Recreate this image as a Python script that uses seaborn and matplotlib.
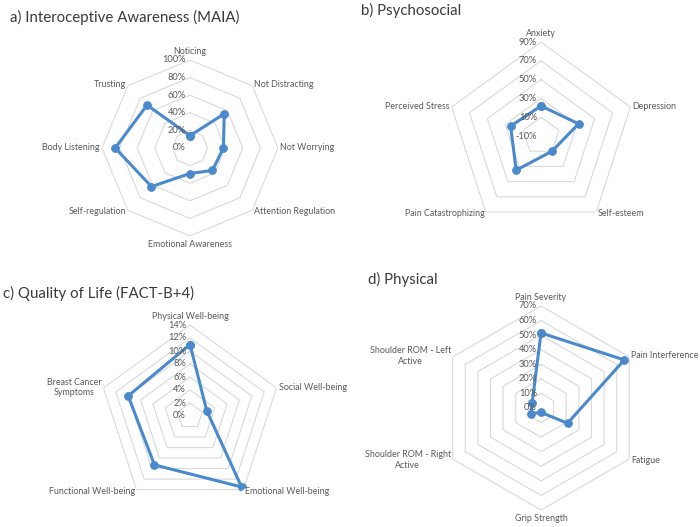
import numpy as np
import matplotlib.pyplot as plt
import seaborn as sns

# a) MAIA
maia_labels = ["Noticing", "Not Distracting", "Not Worrying", "Attention Regulation",
               "Emotional Awareness", "Self-regulation", "Body Listening", "Trusting"]
maia_values = [0.14, 0.55, 0.38, 0.36, 0.29, 0.62, 0.85, 0.69]
maia_ticks = [0.0, 0.2, 0.4, 0.6, 0.8, 1.0]

# b) Psychosocial
psych_labels = ["Anxiety", "Depression", "Self-esteem", "Pain Catastrophizing", "Perceived Stress"]
psych_values = [0.22, 0.32, 0.10, 0.35, 0.24]
psych_ticks = [-0.1, 0.1, 0.3, 0.5, 0.7, 0.9]

# c) Quality of life
qol_labels = ["Physical Well-being", "Social Well-being", "Emotional Well-being",
              "Functional Well-being", "Breast Cancer\nSymptoms"]
qol_values = [0.11, 0.027, 0.135, 0.093, 0.10]
qol_ticks = [0.0, 0.02, 0.04, 0.06, 0.08, 0.10, 0.12, 0.14]

# d) Physical
phys_labels = ["Pain Severity", "Pain Interference", "Fatigue", "Grip Strength",
               "Shoulder ROM - Right\nActive", "Shoulder ROM - Left\nActive"]
phys_values = [0.515, 0.66, 0.21, 0.03, 0.08, 0.07]
phys_ticks = [0.0, 0.1, 0.2, 0.3, 0.4, 0.5, 0.6, 0.7]

sns.set_style("white")
plt.rcParams['font.family'] = ['Lato', 'DejaVu Sans']

W, H = 700, 527
fig = plt.figure(figsize=(7, 5.27), dpi=100)

LINE = "#4a89cc"
GRID = "#d9d9d9"
TXT = "#595959"


def radar(title, title_xy, center, radius, labels, values, ticks):
    cx, cy = center
    ax = fig.add_axes([(cx - radius) / W, 1 - (cy + radius) / H, 2 * radius / W, 2 * radius / H],
                      projection="polar")
    ax.set_theta_zero_location("N")
    ax.set_theta_direction(-1)
    n = len(labels)
    theta = np.linspace(0, 2 * np.pi, n, endpoint=False)
    th_closed = np.append(theta, theta[0])

    # polygon rings
    for r in ticks[1:]:
        ax.plot(th_closed, [r] * (n + 1), color=GRID, lw=0.8, zorder=1)

    vals = np.append(values, values[0])
    sns.lineplot(x=th_closed, y=vals, sort=False, estimator=None, ax=ax,
                 color=LINE, lw=2.2, marker="o", markersize=5.5,
                 markeredgecolor=LINE, zorder=3)

    ax.set_ylim(ticks[0], ticks[-1])
    ax.grid(False)
    ax.spines["polar"].set_visible(False)
    ax.set_xticks([])
    ax.set_yticks([])
    ax.set_xlabel("")
    ax.set_ylabel("")

    for r in ticks:
        ax.annotate(f"{r:.0%}", xy=(0, r), xytext=(-3, 0), textcoords="offset points",
                    ha="right", va="center", fontsize=6.7, color=TXT, zorder=4)

    for t, lab in zip(theta, labels):
        s, c = np.sin(t), np.cos(t)
        if abs(s) < 0.1:
            ha = "center"
            va = "bottom" if c > 0 else "top"
            off = 3
        else:
            ha = "left" if s > 0 else "right"
            va = "center"
            off = 1.5
        ax.annotate(lab, xy=(t, ticks[-1]), xytext=(off * s, off * c), textcoords="offset points",
                    ha=ha, va=va, fontsize=6.4, color=TXT, multialignment="center",
                    annotation_clip=False)

    fig.text(title_xy[0] / W, 1 - title_xy[1] / H, title, fontsize=10.8,
             color="#3a3a3a", ha="left", va="center")


radar("a) Interoceptive Awareness (MAIA)", (10, 17), (190, 148), 88,
      maia_labels, maia_values, maia_ticks)
radar("b) Psychosocial", (361, 10), (541, 136), 94,
      psych_labels, psych_values, psych_ticks)
radar("c) Quality of Life (FACT-B+4)", (3, 293), (190, 416), 91,
      qol_labels, qol_values, qol_ticks)
radar("d) Physical", (368, 279), (541, 408), 102,
      phys_labels, phys_values, phys_ticks)

fig.savefig("out.png", dpi=100)
